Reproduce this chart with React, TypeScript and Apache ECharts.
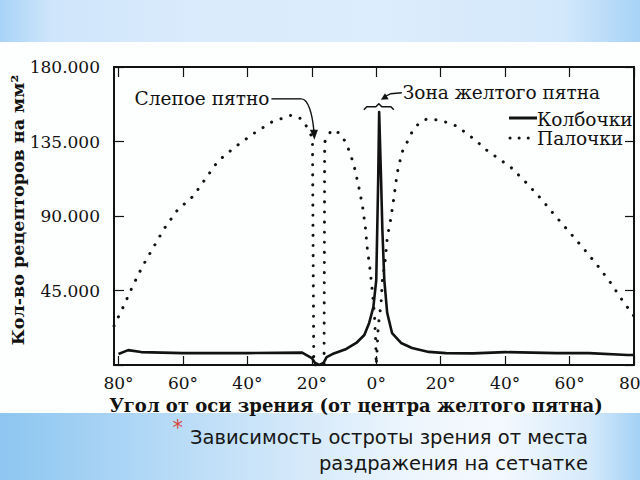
import React, { useEffect, useRef } from "react";
import * as echarts from "echarts";

// ---- data ----
const seriesNames = ["Колбочки", "Палочки"];

// cones (angle in degrees, receptors per mm²)
const coneAngles = [-80, -77, -73, -60, -40, -23, -20, -19, -17.6, -16.4, -15.4, -13.6, -9.3, -6.2, -3.7, -2.2, -0.9, 0, 0.3, 0.6, 0.9, 1.5, 1.9, 2.5, 3.4, 4.9, 7.7, 11.1, 16.3, 21.6, 30, 40, 56, 66, 78, 80];
const coneValues = [6600, 9000, 7800, 7200, 7200, 7500, 4200, 1200, 0, 1200, 4800, 6600, 9700, 13300, 18100, 25400, 35000, 51300, 81500, 111700, 152800, 111700, 81500, 51300, 31400, 19300, 13300, 10300, 7900, 7200, 7000, 7800, 7200, 7200, 6000, 6000];

// rods
const rodAngles = [-81.4, -78.4, -75.6, -72.5, -69.1, -65.7, -61.7, -56.8, -52.8, -49.1, -43.8, -38.3, -32.4, -26.2, -23.1, -21.3, -19.8, -19.4, -16.2, -16.0, -13.9, -11.4, -9.3, -7.1, -5.6, -4.3, -3.4, -2.8, -1.9, -1.2, -0.6, -0.2, 0, 0.3, 0.6, 1.5, 1.9, 2.8, 3.4, 4.6, 5.6, 6.5, 8.0, 9.6, 11.1, 13.3, 15.7, 19.1, 22.5, 25.6, 28.1, 30.9, 33.3, 36.4, 41.7, 46.6, 51.2, 55.6, 60.2, 64.5, 68.8, 72.8, 76.5, 80];
const rodValues = [23600, 35600, 47700, 59800, 71300, 82700, 93600, 102000, 113000, 123200, 131700, 139500, 146800, 151000, 148600, 143100, 137100, 0, 0, 134700, 142000, 140100, 134100, 122000, 109300, 96600, 83400, 70700, 57400, 44100, 31400, 15000, 0, 10900, 23000, 37400, 51300, 63400, 76700, 89400, 102700, 116000, 128600, 134700, 140700, 146200, 148600, 148000, 146200, 143800, 139500, 135900, 131100, 126800, 119600, 110000, 100300, 90000, 79700, 70000, 59800, 49500, 38700, 29500];

const angleTicks = [-80, -60, -40, -20, 0, 20, 40, 60, 80];
const xMin = -81.4;
const xMax = 80;
const yMin = 0;
const yMax = 180000;
const yStep = 45000;

const yTitle = "Кол-во рецепторов на мм²";
const xTitle = "Угол от оси зрения (от центра желтого пятна)";
const blindSpotLabel = "Слепое пятно";
const maculaLabel = "Зона желтого пятна";
const captionLines = ["Зависимость остроты зрения от места", "раздражения на сетчатке"];

const blindSpotAnchor = [-19.2, 136000];
const maculaAnchor = [0.8, 156000];

const INK = "#121212";
const SERIF = "'DejaVu Serif', serif";
const SANS = "'DejaVu Sans', sans-serif";

export default function App() {
  const ref = useRef<HTMLDivElement>(null);

  useEffect(() => {
    if (!ref.current) return;
    const chart = echarts.init(ref.current, null, { renderer: "svg" });

    const conesData = coneAngles.map((a, i) => [a, coneValues[i]]);
    const rodsData = rodAngles.map((a, i) => [a, rodValues[i]]);

    const fmtY = (v: number) => (v === 0 ? "" : `${Math.round(v / 1000)}.000`);
    const fmtX = (v: number) => `${Math.abs(v)}°`;

    const axisLine = { show: true, onZero: false, lineStyle: { color: INK, width: 2 } };

    chart.setOption({
      animation: false,
      backgroundColor: "transparent",
      grid: { left: 114, right: 6, top: 67, bottom: 115, containLabel: false, outerBoundsMode: "none" },
      xAxis: [
        {
          type: "value", min: xMin, max: xMax, position: "bottom",
          axisLine, splitLine: { show: false },
          axisTick: { inside: true, length: 9, customValues: angleTicks, lineStyle: { color: INK, width: 1.2 } },
          axisLabel: { formatter: fmtX, customValues: angleTicks, fontFamily: SERIF, fontSize: 17, color: INK, margin: 9 },
        },
        {
          type: "value", min: xMin, max: xMax, position: "top",
          axisLine, splitLine: { show: false },
          axisTick: { inside: true, length: 10, customValues: angleTicks, lineStyle: { color: INK, width: 1.2 } },
          axisLabel: { show: false },
        },
      ],
      yAxis: [
        {
          type: "value", min: yMin, max: yMax, interval: yStep, position: "left",
          axisLine, splitLine: { show: false },
          axisTick: { inside: true, length: 10, lineStyle: { color: INK, width: 1.2 } },
          axisLabel: { formatter: fmtY, fontFamily: SERIF, fontSize: 17, color: INK, margin: 14 },
        },
        {
          type: "value", min: yMin, max: yMax, interval: yStep, position: "right",
          axisLine, splitLine: { show: false },
          axisTick: { inside: true, length: 9, lineStyle: { color: INK, width: 1.2 } },
          axisLabel: { show: false },
        },
      ],
      series: [
        {
          name: seriesNames[0], type: "line", data: conesData, symbol: "none",
          lineStyle: { color: INK, width: 2.6, join: "round" },
          itemStyle: { color: INK }, z: 3,
        },
        {
          name: seriesNames[1], type: "line", data: rodsData, symbol: "none",
          lineStyle: { color: INK, width: 3, type: [0.1, 10], cap: "round" },
          itemStyle: { color: INK }, z: 2,
        },
      ],
    });

    const px = (p: number[]) => chart.convertToPixel({ xAxisIndex: 0, yAxisIndex: 0 }, p) as number[];
    const [tx, ty] = px(blindSpotAnchor);
    const [cx, yb] = px(maculaAnchor);
    const [, gy0] = px([xMin, yMin]);
    const [gx1] = px([xMax, yMin]);

    const lineStyle = { stroke: INK, lineWidth: 1.4, fill: null };
    const legX = gx1 - 97;
    const legY1 = 119;
    const legY2 = 138;
    const annFont = `18.5px ${SERIF}`;

    chart.setOption({
      graphic: [
        // y axis title
        {
          type: "text", x: 18, y: 210, rotation: Math.PI / 2,
          style: { text: yTitle, font: `bold 17.5px ${SERIF}`, fill: INK, align: "center", verticalAlign: "middle" },
        },
        // x axis title
        {
          type: "text", x: 356, y: gy0 + 40,
          style: { text: xTitle, font: `bold 18px ${SERIF}`, fill: INK, align: "center", verticalAlign: "middle" },
        },
        // legend
        { type: "line", shape: { x1: legX - 28, y1: legY1 - 1, x2: legX, y2: legY1 - 1 }, style: { stroke: INK, lineWidth: 3 } },
        {
          type: "text", x: legX, y: legY1,
          style: { text: seriesNames[0], font: annFont, fill: INK, align: "left", verticalAlign: "middle" },
        },
        {
          type: "line", shape: { x1: legX - 27, y1: legY2, x2: legX - 4, y2: legY2 },
          style: { stroke: INK, lineWidth: 3, lineDash: [0.1, 9], lineCap: "round" },
        },
        {
          type: "text", x: legX, y: legY2,
          style: { text: seriesNames[1], font: annFont, fill: INK, align: "left", verticalAlign: "middle" },
        },
        // blind spot annotation
        {
          type: "text", x: tx - 45, y: ty - 41,
          style: { text: blindSpotLabel, font: annFont, fill: INK, align: "right", verticalAlign: "middle" },
        },
        { type: "polyline", shape: { points: [[tx - 43, ty - 41], [tx - 13, ty - 41]] }, style: lineStyle },
        {
          type: "bezierCurve",
          shape: { x1: tx - 13, y1: ty - 41, cpx1: tx - 6, cpy1: ty - 41, cpx2: tx - 2, cpy2: ty - 25, x2: tx - 0.5, y2: ty - 9 },
          style: lineStyle,
        },
        { type: "polygon", shape: { points: [[tx - 4.5, ty - 10], [tx + 3.5, ty - 10], [tx, ty]] }, style: { fill: INK } },
        // macula annotation
        {
          type: "polyline",
          shape: { points: [[cx - 15, yb + 3], [cx - 12, yb], [cx - 3, yb], [cx, yb - 3], [cx + 3, yb], [cx + 12, yb], [cx + 15, yb + 3]] },
          style: { stroke: INK, lineWidth: 1.5, fill: null },
        },
        { type: "polyline", shape: { points: [[cx + 23, yb - 14], [cx + 12, yb - 13], [cx + 6, yb - 10]] }, style: lineStyle },
        { type: "polygon", shape: { points: [[cx + 2, yb - 7], [cx + 9.8, yb - 7.6], [cx + 6.2, yb - 13.6]] }, style: { fill: INK } },
        {
          type: "text", x: cx + 24, y: yb - 14,
          style: { text: maculaLabel, font: annFont, fill: INK, align: "left", verticalAlign: "middle" },
        },
        // slide caption
        {
          type: "text", x: 183, y: 428,
          style: { text: "*", font: `21px ${SANS}`, fill: "#d9453a", align: "right", verticalAlign: "middle" },
        },
        {
          type: "text", x: 588, y: 437,
          style: { text: captionLines[0], font: `19.5px ${SANS}`, fill: "#161616", align: "right", verticalAlign: "middle" },
        },
        {
          type: "text", x: 588, y: 463,
          style: { text: captionLines[1], font: `19.5px ${SANS}`, fill: "#161616", align: "right", verticalAlign: "middle" },
        },
      ],
    });

    return () => chart.dispose();
  }, []);

  return (
    <div
      style={{
        position: "fixed", left: 0, top: 0, width: 640, height: 480, overflow: "hidden",
        background: "#fdfefe",
      }}
    >
      <div
        style={{
          position: "absolute", left: 0, top: 0, width: 640, height: 42,
          background: "linear-gradient(to right, #a7d3f6 0%, #cfe5fb 8%, #d9ebfc 30%, #dcedfc 60%, #d3e8fb 88%, #a7d3f6 100%)",
        }}
      />
      <div
        style={{
          position: "absolute", left: 0, top: 413, width: 640, height: 67,
          background: "linear-gradient(to right, #8dc6f0 0%, #a9d4f5 18%, #cbe4f9 40%, #eef6fd 65%, #f4f9fe 78%, #d6eafb 92%, #a3d1f5 100%)",
        }}
      />
      <div ref={ref} style={{ position: "absolute", left: 0, top: 0, width: 640, height: 480 }} />
    </div>
  );
}
